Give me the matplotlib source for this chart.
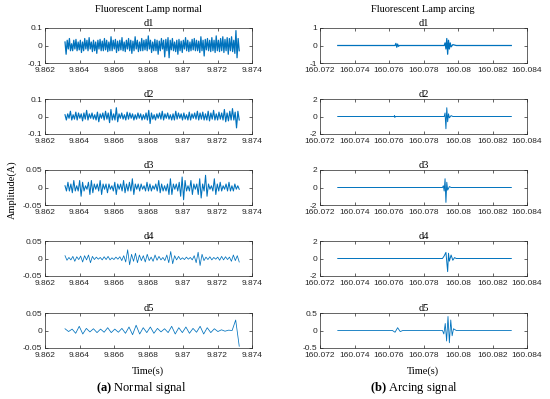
import numpy as np
import matplotlib.pyplot as plt

# datos: señal normal (lampara fluorescente), coeficientes d1..d5
t_norm = (9.86316, 9.87326)
d1n = [0.02,-0.05,0.03,-0.02,0.04,-0.03,0.01,-0.03,0.03,-0.02,0.035,-0.03,0.02,-0.025,0.03,-0.04,0.02,-0.03,0.04,-0.02,
       0.03,-0.03,0.045,-0.02,0.02,-0.035,0.03,-0.03,0.02,-0.045,0.03,-0.02,0.035,-0.03,0.025,-0.03,0.04,-0.025,0.03,-0.035,
       0.02,-0.03,0.05,-0.03,0.03,-0.02,0.035,-0.04,0.025,-0.03,0.03,-0.025,0.045,-0.03,0.02,-0.035,0.03,-0.02,0.04,-0.03,
       0.03,-0.045,0.025,-0.03,0.05,-0.02,0.03,-0.035,0.02,-0.03,0.04,-0.03,0.03,-0.025,0.035,-0.03,0.055,-0.02,0.03,-0.04,
       0.02,-0.03,0.035,-0.03,0.03,-0.05,0.025,-0.03,0.04,-0.02,0.03,-0.065,0.035,-0.03,0.045,-0.07,0.03,-0.025,0.04,-0.03,
       0.02,-0.035,0.03,-0.05,0.035,-0.03,0.025,-0.04,0.03,-0.02,0.045,-0.03,0.03,-0.035,0.02,-0.03,0.035,-0.025,0.04,-0.03,
       0.03,-0.03,0.025,-0.04,0.05,-0.03,0.03,-0.06,0.035,-0.025,0.04,-0.03,0.03,-0.035,0.045,-0.03,0.03,-0.04,0.055,-0.03,
       0.03,-0.035,0.04,-0.03,0.05,-0.04,0.035,-0.03,0.045,-0.05,0.04,-0.03,0.05,-0.035,0.03,-0.045,0.085,-0.07,0.04,-0.03]
d2n = [0.01,-0.02,0.015,-0.01,0.03,-0.02,0.01,-0.015,0.025,-0.02,0.02,-0.01,0.015,-0.025,0.02,-0.015,0.035,-0.02,0.015,-0.01,
       0.02,-0.015,0.01,-0.02,0.025,-0.03,0.015,-0.01,0.02,-0.02,0.03,-0.015,0.02,-0.035,0.04,-0.02,0.015,-0.02,0.05,-0.03,
       0.015,-0.01,0.02,-0.015,0.01,-0.02,0.025,-0.015,0.02,-0.01,0.015,-0.02,0.01,-0.015,0.02,-0.01,0.015,-0.02,0.01,-0.015,
       0.02,-0.02,0.035,-0.04,0.02,-0.015,0.01,-0.02,0.015,-0.01,0.02,-0.015,0.03,-0.02,0.015,-0.01,0.02,-0.015,0.01,-0.02,
       0.015,-0.02,0.03,-0.015,0.02,-0.01,0.015,-0.02,0.02,-0.015,0.01,-0.02,0.025,-0.02,0.015,-0.01,0.02,-0.015,0.03,-0.02,
       0.02,-0.015,0.025,-0.02,0.015,-0.02,0.03,-0.025,0.02,-0.015,0.035,-0.02,0.015,-0.02,0.025,-0.015,0.02,-0.02,0.04,-0.03,
       0.02,-0.025,0.03,-0.02,0.045,-0.02,0.025,-0.065,0.03,-0.02]
d3n = [0.005,-0.01,0.015,-0.01,0.01,-0.015,0.02,-0.01,0.005,-0.01,0.02,-0.025,0.015,-0.01,0.005,-0.005,0.015,-0.02,0.02,-0.015,
       0.01,-0.005,0.01,-0.01,0.02,-0.02,0.01,-0.005,0.01,-0.015,0.01,-0.005,0.005,-0.01,0.015,-0.02,0.01,-0.005,0.01,-0.01,
       0.02,-0.015,0.01,-0.01,0.015,-0.01,0.025,-0.02,0.01,-0.005,0.01,-0.01,0.01,-0.005,0.005,-0.01,0.015,-0.01,0.01,-0.01,
       0.005,-0.005,0.01,-0.01,0.02,-0.015,0.01,-0.01,0.005,-0.01,0.01,-0.02,0.025,-0.02,0.01,-0.005,0.01,-0.01,0.015,-0.025,
       0.03,-0.035,0.02,-0.01,0.005,-0.01,0.02,-0.02,0.01,-0.005,0.01,-0.02,0.025,-0.03,0.01,-0.01,0.035,-0.025,0.01,-0.005,
       0.005,-0.01,0.025,-0.02,0.01,-0.01,0.015,-0.01,0.005,-0.005,0.01,-0.01,0.015,-0.01,0.005,-0.01,0.01,-0.005,0.005,-0.005]
d4n = [0.008,-0.005,0.003,-0.004,0.006,-0.008,0.005,-0.003,0.007,-0.01,0.008,-0.004,0.01,-0.012,0.006,-0.003,0.004,-0.002,0.003,-0.004,
       0.005,-0.003,0.006,-0.004,0.002,-0.003,0.004,-0.002,0.005,-0.006,0.008,-0.01,0.025,-0.018,0.012,-0.008,0.015,-0.012,0.01,-0.006,
       0.008,-0.01,0.012,-0.006,0.004,-0.008,0.01,-0.005,0.006,-0.004,0.003,-0.006,0.01,-0.012,0.02,-0.015,0.008,-0.004,0.006,-0.003,
       0.002,-0.003,0.004,-0.002,0.003,-0.004,0.008,-0.012,0.018,-0.02,0.012,-0.006,0.004,-0.003,0.005,-0.004,0.003,-0.002,0.004,-0.005,
       0.006,-0.004,0.005,-0.003,0.004,-0.008,0.01,-0.006,0.008,-0.01]
d5n = [0.005,-0.003,0.004,-0.008,0.012,-0.01,0.006,-0.004,0.005,-0.006,0.004,-0.005,0.008,-0.006,0.004,-0.005,0.006,-0.008,0.01,-0.012,
       0.015,-0.01,0.008,-0.006,0.01,-0.008,0.006,-0.004,0.005,-0.006,0.012,-0.01,0.008,-0.006,0.01,-0.008,0.006,-0.005,0.012,-0.01,
       0.008,-0.006,0.005,-0.003,0.002,-0.002,0.001,0.0,0.03,-0.045]

# datos: señal con arco
d1a_t = [160.07303,160.0745,160.07635,160.0764,160.07645,160.0765,160.07655,160.0766,160.0792,160.07925,
         160.0793,160.07935,160.0794,160.07945,160.0795,160.07955,160.0796,160.0797,160.0799,160.08309]
d1a = [0,0,0,0.12,-0.1,0.08,-0.05,0,0,0.15,-0.2,0.4,-0.5,0.3,-0.2,0.15,-0.08,0.05,0,0]
d2a_t = [160.07303,160.0763,160.07632,160.07634,160.07636,160.0792,160.07925,160.0793,160.07935,160.0794,
         160.07945,160.0795,160.0796,160.0797,160.08309]
d2a = [0,0,0.1,-0.1,0,0,0.4,-1.4,1.0,-0.6,0.3,-0.15,0.1,0,0]
d3a_t = [160.07303,160.0791,160.07915,160.0792,160.07925,160.0793,160.07935,160.0794,160.0795,160.0796,160.08309]
d3a = [0,0,0.2,-0.4,1.0,-1.7,0.6,-0.3,0.1,0,0]
d4a_t = [160.07303,160.0791,160.0792,160.0793,160.0794,160.07945,160.0795,160.0796,160.0797,160.0798,160.0799,160.08309]
d4a = [0,0,0.3,0.7,-1.5,0.6,-0.3,0.4,-0.2,0.1,0,0]
d5a_t = [160.07303,160.0762,160.07635,160.0765,160.07665,160.0768,160.0791,160.07918,160.07926,160.07934,
         160.07942,160.0795,160.07958,160.07966,160.07974,160.0799,160.08309]
d5a = [0,0,-0.05,0.08,-0.03,0,0,-0.1,0.2,-0.3,0.4,-0.35,0.3,-0.15,0.05,0,0]

nombres = ["d1", "d2", "d3", "d4", "d5"]
lim_norm = [0.1, 0.1, 0.05, 0.05, 0.05]
lim_arc = [1, 2, 2, 2, 0.5]
xt_norm = [9.862, 9.864, 9.866, 9.868, 9.87, 9.872, 9.874]
xt_arc = [160.072, 160.074, 160.076, 160.078, 160.08, 160.082, 160.084]
grosor_norm = [0.9, 0.85, 0.75, 0.55, 0.55]
grosor_arc = [0.9, 0.7, 0.7, 0.7, 0.6]

azul = "#0072BD"
gris = "#262626"
serif = "Liberation Serif"
sans = "Liberation Sans"

plt.rcParams["mathtext.fontset"] = "custom"
plt.rcParams["mathtext.rm"] = "Liberation Serif"
plt.rcParams["mathtext.bf"] = "Liberation Serif:bold"

fig = plt.figure(figsize=(5.5, 3.99), dpi=100)
tops = [28, 99, 170, 241, 313]
alto = 35

def formato(v):
    return ("%g" % v)

normales = [d1n, d2n, d3n, d4n, d5n]
arcos = [(d1a_t, d1a), (d2a_t, d2a), (d3a_t, d3a), (d4a_t, d4a), (d5a_t, d5a)]

for i in range(5):
    b = 1 - (tops[i] + alto) / 399
    h = alto / 399
    for col in range(2):
        if col == 0:
            ax = fig.add_axes([45/550, b, 207/550, h])
            y = normales[i]
            x = np.linspace(t_norm[0], t_norm[1], len(y))
            ax.plot(x, y, color=azul, lw=grosor_norm[i])
            ax.set_xlim(9.862, 9.874)
            lim = lim_norm[i]
            xt = xt_norm
        else:
            ax = fig.add_axes([320/550, b, 207/550, h])
            x, y = arcos[i]
            ax.plot(x, y, color=azul, lw=grosor_arc[i])
            ax.set_xlim(160.072, 160.084)
            lim = lim_arc[i]
            xt = xt_arc
        ax.set_ylim(-lim, lim)
        ax.set_yticks([-lim, 0, lim])
        ax.set_yticklabels([formato(v) for v in [-lim, 0, lim]])
        ax.set_xticks(xt)
        ax.set_xticklabels([formato(v) for v in xt])
        ax.tick_params(direction="in", length=2, width=0.5, labelsize=6, colors=gris,
                       top=True, right=True)
        ax.tick_params(axis="x", pad=3)
        ax.tick_params(axis="y", pad=2)
        for lab in ax.get_xticklabels() + ax.get_yticklabels():
            lab.set_fontfamily(sans)
        for s in ax.spines.values():
            s.set_linewidth(0.5)
            s.set_color(gris)
        ax.set_title(nombres[i], fontsize=7.5, family=serif, pad=1.5, color="black")

fig.text(148/550, 1 - 10/399, "Fluorescent Lamp normal", ha="center", va="center", fontsize=7.5, family=serif)
fig.text(423/550, 1 - 10/399, "Fluorescent Lamp arcing", ha="center", va="center", fontsize=7.5, family=serif)
fig.text(12/550, 1 - 190/399, "Amplitude(A)", ha="center", va="center", rotation=90, fontsize=7.5, family=serif)
fig.text(148/550, 1 - 371/399, "Time(s)", ha="center", va="center", fontsize=7.5, family=serif)
fig.text(423/550, 1 - 371/399, "Time(s)", ha="center", va="center", fontsize=7.5, family=serif)
fig.text(141/550, 1 - 388/399, r"$\mathbf{(a)}$ Normal signal", ha="center", va="center", fontsize=9, family=serif)
fig.text(414/550, 1 - 388/399, r"$\mathbf{(b)}$ Arcing signal", ha="center", va="center", fontsize=9, family=serif)

fig.savefig("out.png", dpi=100)
